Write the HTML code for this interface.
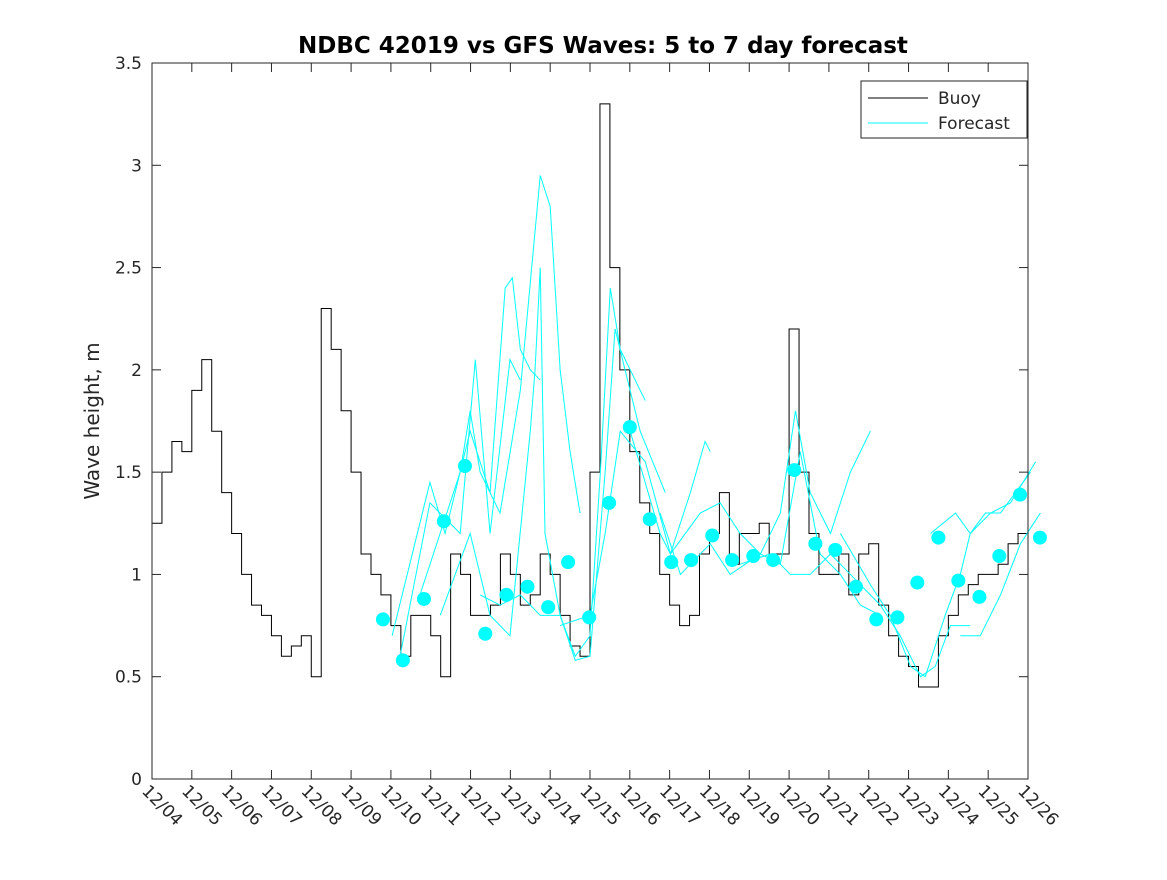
<!DOCTYPE html>
<html><head><meta charset="utf-8"><style>
body{margin:0;background:#fff;}
svg text{font-family:"DejaVu Sans","Liberation Sans",sans-serif;fill:#262626;}
</style></head><body>
<svg id="chart" width="1167" height="875" xmlns="http://www.w3.org/2000/svg">
<rect width="1167" height="875" fill="#fff"/>
<text x="603" y="53" text-anchor="middle" font-size="23" font-weight="bold" style="fill:#000">NDBC 42019 vs GFS Waves: 5 to 7 day forecast</text>
<text transform="translate(99,421) rotate(-90)" text-anchor="middle" font-size="20">Wave height, m</text>
<g id="plot"></g>
<g id="axes"></g>
<g>
<rect x="861" y="81" width="166" height="57" fill="#fff" stroke="#262626" stroke-width="1"/>
<line x1="868" y1="98" x2="928" y2="98" stroke="#000" stroke-width="1"/>
<text x="938" y="104" font-size="17">Buoy</text>
<line x1="868" y1="123" x2="928" y2="123" stroke="#00ffff" stroke-width="1"/>
<text x="938" y="129" font-size="17">Forecast</text>
</g>
</svg>
<script>
const dayLabels=["12/04","12/05","12/06","12/07","12/08","12/09","12/10","12/11","12/12","12/13","12/14","12/15","12/16","12/17","12/18","12/19","12/20","12/21","12/22","12/23","12/24","12/25","12/26"];
const yTicks=[0,0.5,1,1.5,2,2.5,3,3.5];
const buoyStep=0.25;
const buoyValues=[1.25,1.5,1.65,1.6, 1.9,2.05,1.7,1.4, 1.2,1.0,0.85,0.8, 0.7,0.6,0.65,0.7, 0.5,2.3,2.1,1.8, 1.5,1.1,1.0,0.9, 0.75,0.6,0.8,0.8, 0.7,0.5,1.1,1.0, 0.8,0.8,0.85,1.1, 1.0,0.85,0.9,1.1, 1.0,0.8,0.65,0.6, 1.5,3.3,2.5,2.0, 1.6,1.35,1.2,1.0, 0.85,0.75,0.8,1.1, 1.2,1.4,1.05,1.2, 1.2,1.25,1.1,1.1, 2.2,1.5,1.2,1.0, 1.0,1.1,0.9,1.1, 1.15,0.85,0.7,0.6, 0.55,0.45,0.45,0.7, 0.8,0.9,0.95,1.0, 1.0,1.05,1.15,1.2];
const dotDays=[5.8,6.3,6.83,7.33,7.86,8.37,8.9,9.43,9.95,10.45,10.98,11.48,12.0,12.5,13.04,13.54,14.07,14.57,15.1,15.6,16.13,16.66,17.16,17.68,18.19,18.72,19.22,19.75,20.25,20.78,21.28,21.8,22.3];
const dotValues=[0.78,0.58,0.88,1.26,1.53,0.71,0.90,0.94,0.84,1.06,0.79,1.35,1.72,1.27,1.06,1.07,1.19,1.07,1.09,1.07,1.51,1.15,1.12,0.94,0.78,0.79,0.96,1.18,0.97,0.89,1.09,1.39,1.18];
const fcDays=[
[6.03,6.98,7.36,7.99,8.49,8.87,9.05,9.25,9.5,9.75],
[6.23,6.98,7.74,8.12,8.49,8.99,9.25],
[6.73,7.74,7.99,8.24,8.74,9.25,9.75,10.0,10.25,10.5,10.75],
[7.24,7.99,8.49,8.99,9.5,9.62,9.75,9.87,10.25,10.63,11.0,11.26,11.51,11.76,12.26,12.39],
[8.24,8.74,9.25,9.75,10.25,10.63,11.0,11.38,11.63,11.88,12.26,12.89],
[10.25,11.0,11.38,11.76,12.39,13.02,13.52,13.89,14.02],
[12.01,12.76,13.02,13.77,14.27,14.77,15.28,15.78,16.16,16.53,17.04,17.54,18.04],
[12.76,13.27,14.02,14.52,15.28,15.78,16.28,16.78,17.29,17.79,18.29],
[14.77,15.53,16.03,16.53,17.04,17.54,18.29,18.79,19.3,19.67,20.05,20.55],
[17.29,18.04,18.54,19.05,19.42,19.92,20.3,20.55,20.93,21.31,22.06],
[19.55,20.18,20.55,21.06,21.56,22.19],
[20.3,20.8,21.31,21.81,22.31]];
const fcValues=[
[0.7,1.45,1.2,1.7,1.4,2.4,2.45,2.1,2.0,1.95],
[0.6,1.35,1.2,2.05,1.2,2.05,1.95],
[0.9,1.5,1.8,1.5,1.3,1.9,2.95,2.8,2.0,1.6,1.3],
[0.8,1.2,0.8,0.7,1.7,2.0,2.5,1.2,0.8,0.6,0.7,1.5,2.4,2.1,1.9,1.85],
[0.9,0.85,0.9,0.8,0.8,0.58,0.6,1.5,2.2,2.0,1.7,1.4],
[0.75,0.8,1.2,1.7,1.55,1.1,1.4,1.65,1.6],
[1.7,1.2,1.1,1.3,1.35,1.2,1.1,1.3,1.8,1.4,1.2,1.5,1.7],
[1.3,1.0,1.15,1.0,1.1,1.05,1.6,1.1,1.0,0.85,0.8],
[1.05,1.1,1.0,1.0,1.1,1.0,0.85,0.7,0.5,0.55,0.75,0.75],
[1.2,0.95,0.8,0.55,0.5,0.8,1.0,1.2,1.3,1.3,1.5],
[1.2,1.3,1.2,1.3,1.35,1.55],
[0.7,0.7,0.9,1.15,1.3]];

const X0=152,X1=1028,Y0=779,Y1=63,NS="http://www.w3.org/2000/svg";
const xs=d=>X0+d*(X1-X0)/22;
const ys=v=>Y0-v*(Y0-Y1)/3.5;
function mk(tag,attrs,parent){const e=document.createElementNS(NS,tag);for(const k in attrs)e.setAttribute(k,attrs[k]);parent.appendChild(e);return e;}
const plot=document.getElementById('plot'),axes=document.getElementById('axes');
let d='';
buoyValues.forEach((v,i)=>{const x=xs(i*buoyStep),y=ys(v);d+=(i?`L${x},${y}`:`M${x},${y}`)+`L${xs((i+1)*buoyStep)},${y}`;});
const bl=mk('path',{d:d,fill:'none',stroke:'#000','stroke-width':1},plot);


fcDays.forEach((arr,k)=>{
 const p=arr.map((dd,i)=>(i?'L':'M')+xs(dd)+','+ys(fcValues[k][i])).join('');
 const fl=mk('path',{d:p,fill:'none',stroke:'#00ffff','stroke-width':1},plot);
 
 
});
dotDays.forEach((dd,i)=>{
 const c=mk('circle',{cx:xs(dd),cy:ys(dotValues[i]),r:7,fill:'#00ffff'},plot);
 
 
});
const box=mk('rect',{x:X0,y:Y1,width:X1-X0,height:Y0-Y1,fill:'none',stroke:'#262626','stroke-width':1},axes);


yTicks.forEach(v=>{
 const y=ys(v);
 mk('line',{x1:X0,y1:y,x2:X0+9,y2:y,stroke:'#262626'},axes);
 mk('line',{x1:X1,y1:y,x2:X1-9,y2:y,stroke:'#262626'},axes);
 const t=mk('text',{x:X0-10,y:y+6,'text-anchor':'end','font-size':17},axes);
 t.textContent=v;
 
 
});
dayLabels.forEach((lab,i)=>{
 const x=xs(i);
 mk('line',{x1:x,y1:Y0,x2:x,y2:Y0-9,stroke:'#262626'},axes);
 mk('line',{x1:x,y1:Y1,x2:x,y2:Y1+9,stroke:'#262626'},axes);
 const t=mk('text',{transform:`translate(${x-11},${Y0+13}) rotate(45)`,'font-size':17},axes);
 t.textContent=lab;
 
 
});
</script>
</body></html>
